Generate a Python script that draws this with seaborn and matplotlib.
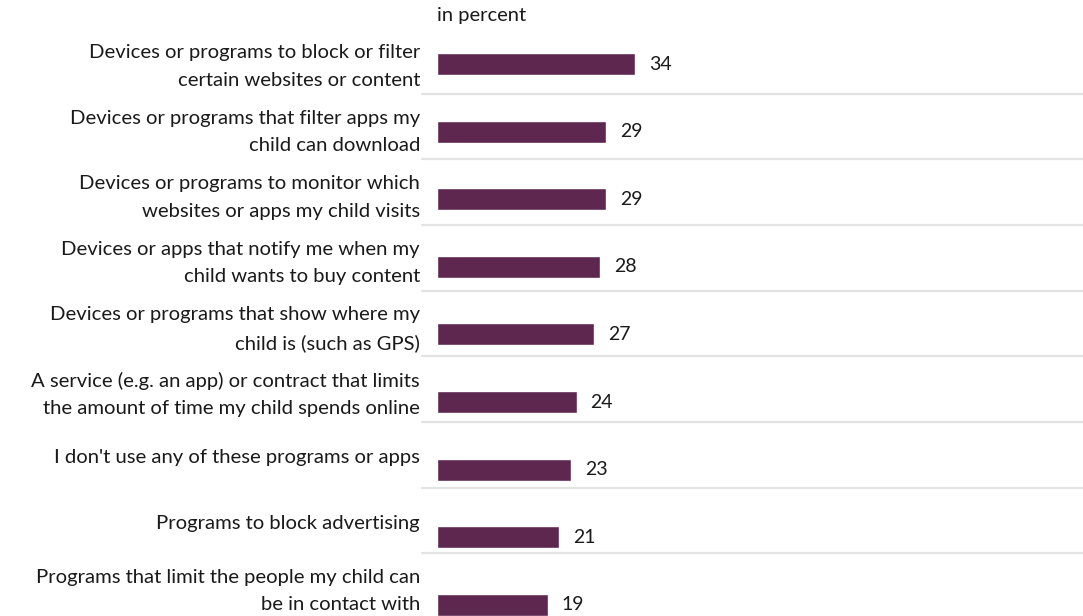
import matplotlib
matplotlib.use("Agg")
import matplotlib.pyplot as plt
import seaborn as sns
import pandas as pd

# Survey answers and their shares (in percent)
categories = [
    "Devices or programs to block or filter\ncertain websites or content",
    "Devices or programs that filter apps my\nchild can download",
    "Devices or programs to monitor which\nwebsites or apps my child visits",
    "Devices or apps that notify me when my\nchild wants to buy content",
    "Devices or programs that show where my\nchild is (such as GPS)",
    "A service (e.g. an app) or contract that limits\nthe amount of time my child spends online",
    "I don't use any of these programs or apps",
    "Programs to block advertising",
    "Programs that limit the people my child can\nbe in contact with",
]
values = [34, 29, 29, 28, 27, 24, 23, 21, 19]
unit_label = "in percent"

BAR_COLOR = "#5e2750"
TEXT_COLOR = "#1a1a1a"
RULE_COLOR = "#e3e3e3"

sns.set_theme(style="white")
plt.rcParams["font.family"] = ["Lato", "DejaVu Sans"]

W, H, DPI = 1083, 616, 100
fig = plt.figure(figsize=(W / DPI, H / DPI), dpi=DPI)

# plot area in pixels: bars start at x=437 and run to the right edge
left_px = 437
ax = fig.add_axes([left_px / W, 0, (W - left_px) / W, 1])

df = pd.DataFrame({"answer": categories, "share": values})
sns.barplot(data=df, x="share", y="answer", orient="h", color=BAR_COLOR,
            saturation=1, width=0.325, ax=ax)

# vertical layout: bar rows every 67.6 px, starting 64 px from the top
row_px, first_px = 67.6, 64.0
ax.set_ylim((H - first_px) / row_px, -first_px / row_px)
ax.set_xlim(0, (W - left_px) / 5.82)

# row labels sit on a slightly tighter grid (65.6 px)
label_step = 65.6
label_pos = []
for i, c in enumerate(categories):
    shift = -4.3 if "\n" in c else -1.5
    label_pos.append((shift + label_step * i) / row_px)
ax.set_yticks(label_pos)
ax.set_yticklabels(categories, fontsize=14.6, color=TEXT_COLOR)
for t in ax.get_yticklabels():
    t.set_linespacing(1.74)
    t.set_multialignment("right")
ax.tick_params(axis="y", length=0, pad=12.2)
ax.set_xticks([])
ax.set_xlabel("")
ax.set_ylabel("")
for s in ax.spines.values():
    s.set_visible(False)

# light separators between rows, extending a little left of the bars
axes_w = W - left_px
for k in range(len(categories) - 1):
    y_px = 93.5 + 65.7 * k
    ax.axhline((y_px - first_px) / row_px, xmin=-15 / axes_w, xmax=1,
               color=RULE_COLOR, linewidth=1.6, clip_on=False, zorder=0)

ax.bar_label(ax.containers[0], labels=[str(v) for v in values],
             padding=10, fontsize=14, color=TEXT_COLOR)

fig.text(left_px / W, 1 - 20.7 / H, unit_label, ha="left", va="baseline",
         fontsize=14.5, color=TEXT_COLOR)

fig.savefig("out.png", dpi=DPI)
